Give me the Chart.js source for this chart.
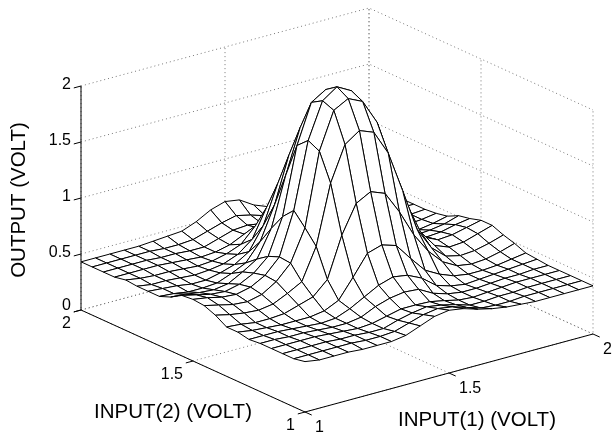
<!DOCTYPE html>
<html>
<head>
<meta charset="utf-8">
<style>
  html, body { margin: 0; padding: 0; background: #fff; }
  #wrap { width: 612px; height: 435px; }
</style>
<script src="https://cdn.jsdelivr.net/npm/chart.js"></script>
</head>
<body>
<div id="wrap"><canvas id="chart" width="612" height="435"></canvas></div>
<script>
const input1Ticks = [1, 1.5, 2];
const input2Ticks = [1, 1.5, 2];
const outputTicks = [0, 0.5, 1, 1.5, 2];
const input1Values = [1, 1.05, 1.1, 1.15, 1.2, 1.25, 1.3, 1.35, 1.4, 1.45, 1.5, 1.55, 1.6, 1.65, 1.7, 1.75, 1.8, 1.85, 1.9, 1.95, 2];
const input2Values = [1, 1.05, 1.1, 1.15, 1.2, 1.25, 1.3, 1.35, 1.4, 1.45, 1.5, 1.55, 1.6, 1.65, 1.7, 1.75, 1.8, 1.85, 1.9, 1.95, 2];

// one row per input2 value, one column per input1 value
const output = [
  [.45, .43, .43, .43, .42, .42, .42, .44, .49, .54, .56, .54, .50, .47, .45, .44, .43, .43, .43, .43, .43],
  [.43, .43, .43, .43, .43, .42, .42, .43, .47, .51, .53, .51, .47, .43, .42, .42, .43, .43, .43, .43, .43],
  [.43, .43, .43, .43, .42, .42, .41, .41, .45, .48, .50, .48, .45, .41, .41, .42, .42, .43, .43, .43, .43],
  [.43, .43, .43, .43, .42, .41, .40, .41, .44, .47, .47, .465, .44, .41, .40, .41, .42, .43, .43, .43, .43],
  [.43, .43, .42, .42, .41, .40, .40, .42, .48, .52, .54, .53, .46, .42, .40, .40, .41, .42, .42, .43, .43],
  [.42, .42, .42, .41, .40, .39, .40, .45, .52, .59, .63, .61, .55, .45, .41, .39, .40, .41, .42, .43, .44],
  [.44, .42, .41, .40, .40, .40, .42, .48, .65, .83, .87, .83, .68, .54, .47, .42, .40, .40, .41, .43, .45],
  [.44, .43, .41, .41, .42, .46, .50, .62, .98, 1.23, 1.30, 1.25, 1.05, .81, .63, .50, .43, .41, .42, .45, .49],
  [.50, .47, .45, .44, .46, .52, .59, .87, 1.40, 1.71, 1.80, 1.75, 1.53, 1.16, .78, .58, .47, .44, .45, .48, .52],
  [.54, .51, .48, .47, .50, .58, .71, .99, 1.64, 1.97, 2.04, 1.98, 1.76, 1.36, .98, .68, .52, .47, .48, .52, .56],
  [.55, .53, .50, .49, .52, .59, .72, 1.10, 1.69, 2.01, 2.10, 2.03, 1.80, 1.42, 1.02, .72, .55, .49, .50, .53, .56],
  [.54, .51, .48, .47, .50, .565, .68, 1.00, 1.60, 1.95, 2.03, 1.97, 1.72, 1.35, .98, .68, .52, .47, .48, .51, .53],
  [.48, .47, .45, .44, .46, .53, .61, .85, 1.29, 1.68, 1.80, 1.70, 1.45, 1.10, .82, .60, .47, .44, .45, .47, .51],
  [.44, .43, .41, .41, .42, .47, .53, .685, .98, 1.39, 1.42, 1.30, 1.05, .80, .62, .48, .42, .41, .41, .43, .46],
  [.44, .43, .42, .40, .40, .43, .47, .55, .75, 1.09, 1.05, .92, .75, .58, .48, .42, .40, .40, .41, .42, .44],
  [.44, .42, .42, .41, .40, .41, .43, .48, .58, .83, .80, .70, .56, .47, .41, .39, .40, .41, .42, .42, .43],
  [.45, .43, .42, .42, .41, .40, .41, .44, .49, .62, .60, .54, .47, .42, .40, .40, .41, .42, .42, .43, .43],
  [.43, .43, .43, .43, .42, .41, .40, .41, .44, .50, .52, .48, .44, .41, .40, .41, .42, .43, .43, .43, .43],
  [.43, .43, .43, .43, .42, .42, .41, .41, .45, .49, .50, .48, .45, .41, .41, .42, .42, .43, .43, .43, .43],
  [.43, .43, .43, .43, .43, .42, .42, .43, .47, .51, .54, .51, .47, .43, .42, .42, .43, .43, .43, .43, .43],
  [.43, .43, .43, .43, .43, .44, .45, .46, .51, .58, .62, .60, .52, .47, .44, .43, .43, .43, .43, .43, .43],
];

// view of the box, pixels per unit
const view = { x0: 305, y0: 412, xPerInput1: 288, yPerInput1: -78, xPerInput2: -224, yPerInput2: -102, yPerOutput: -112 };

function project(i1, i2, z) {
  const u = i1 - 1;
  const v = i2 - 1;
  return {
    x: view.x0 + view.xPerInput1 * u + view.xPerInput2 * v,
    y: view.y0 + view.yPerInput1 * u + view.yPerInput2 * v + view.yPerOutput * z,
  };
}

function lineSet(points, color, dash) {
  return {
    data: points,
    showLine: true,
    fill: false,
    borderColor: color,
    borderWidth: 1,
    borderDash: dash || [],
    pointRadius: 0,
    tension: 0,
  };
}

const datasets = [];

// mesh cells, front ones first because chart.js paints the first dataset last
const cells = [];
for (let j = 0; j < input2Values.length - 1; j++) {
  for (let i = 0; i < input1Values.length - 1; i++) {
    cells.push({ i, j });
  }
}
cells.sort((a, b) => a.i + a.j - (b.i + b.j));
cells.forEach(({ i, j }) => {
  const pts = [
    project(input1Values[i], input2Values[j], output[j][i]),
    project(input1Values[i + 1], input2Values[j], output[j][i + 1]),
    project(input1Values[i + 1], input2Values[j + 1], output[j + 1][i + 1]),
    project(input1Values[i], input2Values[j + 1], output[j + 1][i]),
    project(input1Values[i], input2Values[j], output[j][i]),
  ];
  datasets.push({ ...lineSet(pts, "#000"), fill: "shape", backgroundColor: "#fff" });
});

const i1Min = input1Ticks[0], i1Max = input1Ticks[input1Ticks.length - 1];
const i2Min = input2Ticks[0], i2Max = input2Ticks[input2Ticks.length - 1];
const zMin = outputTicks[0], zMax = outputTicks[outputTicks.length - 1];

// solid axis lines and tick marks
const tickI1 = 0.025;
const tickI2 = 0.03;
datasets.push(lineSet([project(i1Min, i2Max, zMin), project(i1Min, i2Max, zMax)], "#000"));
datasets.push(lineSet([project(i1Min, i2Max, zMin), project(i1Min, i2Min, zMin), project(i1Max, i2Min, zMin)], "#000"));
outputTicks.forEach((t) => {
  datasets.push(lineSet([project(i1Min, i2Max, t), project(i1Min - tickI1, i2Max, t)], "#000"));
});
input1Ticks.forEach((t) => {
  datasets.push(lineSet([project(t, i2Min, zMin), project(t, i2Min - tickI2, zMin)], "#000"));
});
input2Ticks.forEach((t) => {
  datasets.push(lineSet([project(i1Min, t, zMin), project(i1Min - tickI1, t, zMin)], "#000"));
});

// dotted grid on floor and back walls
const gridColor = "#777";
const gridDash = [1, 3];
outputTicks.forEach((t) => {
  datasets.push(lineSet([project(i1Min, i2Max, t), project(i1Max, i2Max, t), project(i1Max, i2Min, t)], gridColor, gridDash));
});
input1Ticks.forEach((t) => {
  datasets.push(lineSet([project(t, i2Min, zMin), project(t, i2Max, zMin), project(t, i2Max, zMax)], gridColor, gridDash));
});
input2Ticks.forEach((t) => {
  datasets.push(lineSet([project(i1Min, t, zMin), project(i1Max, t, zMin), project(i1Max, t, zMax)], gridColor, gridDash));
});

// tick labels and axis titles
const tickFont = "16px 'Liberation Sans'";
const titleFont = "20.5px 'Liberation Sans'";
const boxLabels = {
  id: "boxLabels",
  afterDraw(chart) {
    const { ctx, scales } = chart;
    const at = (p) => ({ x: scales.x.getPixelForValue(p.x), y: scales.y.getPixelForValue(p.y) });
    const put = (text, p, dx, dy, align) => {
      const q = at(p);
      ctx.textAlign = align;
      ctx.fillText(text, q.x + dx, q.y + dy);
    };
    ctx.save();
    ctx.font = tickFont;
    ctx.fillStyle = "#000";
    ctx.textBaseline = "middle";
    outputTicks.forEach((t) => put(String(t), project(i1Min, i2Max, t), -10, t === zMin ? -4 : -1, "right"));
    input1Ticks.forEach((t) => put(String(t), project(t, i2Min, zMin), 10, 16, "left"));
    input2Ticks.forEach((t) => put(String(t), project(i1Min, t, zMin), -10, 14, "right"));
    ctx.font = titleFont;
    ctx.textAlign = "center";
    ctx.fillText("INPUT(2) (VOLT)", 173, 412);
    ctx.fillText("INPUT(1) (VOLT)", 477, 420);
    ctx.translate(19, 200);
    ctx.rotate(-Math.PI / 2);
    ctx.fillText("OUTPUT (VOLT)", 0, 0);
    ctx.restore();
  },
};

new Chart(document.getElementById("chart"), {
  type: "scatter",
  data: { datasets },
  plugins: [boxLabels],
  options: {
    responsive: false,
    animation: false,
    events: [],
    layout: { padding: 0 },
    plugins: { legend: { display: false }, tooltip: { enabled: false }, title: { display: false } },
    scales: {
      x: { type: "linear", min: 0, max: 612, display: false },
      y: { type: "linear", min: 0, max: 435, reverse: true, display: false },
    },
  },
});
</script>
</body>
</html>
